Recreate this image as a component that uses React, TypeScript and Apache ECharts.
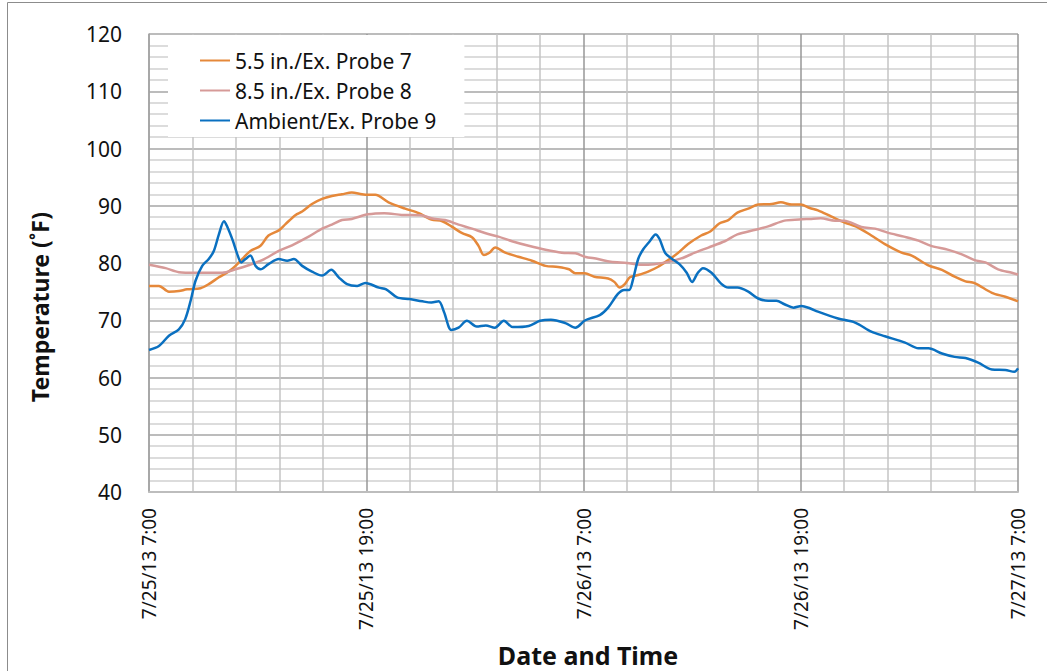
import React, { useEffect, useRef } from "react";
import * as echarts from "echarts";

// Hours elapsed since 7/25/13 7:00
const tickLabels: Record<number, string> = {
  0: "7/25/13 7:00",
  12: "7/25/13 19:00",
  24: "7/26/13 7:00",
  36: "7/26/13 19:00",
  48: "7/27/13 7:00",
};

const seriesNames = ["5.5 in./Ex. Probe 7", "8.5 in./Ex. Probe 8", "Ambient/Ex. Probe 9"];

const probe7Hours = [0, 0.55, 1.1, 1.65, 2.1, 2.85, 3.3, 3.86, 4.4, 4.78, 5.15, 5.6, 6.16, 6.6, 7.17, 7.54, 8.1, 8.46, 9.0, 9.56, 10.1, 10.66, 11.2, 11.76, 12.1, 12.5, 13.23, 14.15, 14.9, 15.6, 16.2, 16.7, 17.3, 17.84, 18.2, 18.5, 18.8, 19.13, 19.68, 20.4, 21.15, 21.9, 22.6, 23.2, 23.55, 24.07, 24.6, 25.36, 25.7, 26.0, 26.28, 26.56, 27.02, 27.57, 28.1, 28.68, 29.2, 29.78, 30.5, 31.0, 31.5, 32.0, 32.5, 33.1, 33.65, 34.4, 34.9, 35.5, 36.0, 36.5, 36.95, 37.7, 38.4, 39.17, 39.9, 40.65, 41.57, 42.13, 43.05, 43.8, 44.5, 45.1, 45.6, 46.56, 47.3, 48.0];
const probe7Temps = [76.0, 76.0, 75.0, 75.1, 75.4, 75.6, 76.3, 77.5, 78.5, 79.5, 80.7, 82.1, 83.0, 84.8, 85.7, 86.8, 88.4, 89.0, 90.3, 91.2, 91.7, 92.0, 92.3, 92.0, 91.9, 91.9, 90.6, 89.5, 88.7, 87.6, 87.3, 86.4, 85.2, 84.5, 83.0, 81.4, 81.8, 82.7, 81.8, 81.1, 80.4, 79.5, 79.3, 78.9, 78.2, 78.2, 77.6, 77.3, 76.7, 75.7, 76.3, 77.5, 77.9, 78.5, 79.3, 80.5, 81.7, 83.3, 84.8, 85.5, 86.9, 87.5, 88.8, 89.5, 90.2, 90.3, 90.6, 90.2, 90.2, 89.6, 89.2, 88.1, 87.1, 86.2, 84.8, 83.3, 81.8, 81.3, 79.6, 78.8, 77.6, 76.8, 76.5, 74.8, 74.1, 73.3];

const probe8Hours = [0, 0.92, 1.65, 2.57, 4.04, 4.78, 5.5, 6.25, 7.17, 7.9, 8.82, 9.56, 10.1, 10.66, 11.2, 12.1, 13.0, 13.97, 15.1, 15.6, 16.36, 17.1, 17.84, 18.6, 19.3, 20.05, 20.97, 21.9, 22.8, 23.55, 24.07, 24.8, 25.5, 26.4, 27.2, 27.9, 28.7, 29.4, 30.15, 30.9, 31.8, 32.5, 33.5, 34.2, 35.1, 35.9, 36.5, 37.1, 37.9, 38.4, 39.35, 40.1, 40.8, 41.7, 42.5, 43.2, 44.16, 44.9, 45.6, 46.2, 46.9, 47.66, 48.0];
const probe8Temps = [79.7, 79.1, 78.4, 78.3, 78.3, 78.9, 79.6, 80.5, 82.1, 83.1, 84.6, 86.0, 86.7, 87.5, 87.7, 88.5, 88.7, 88.4, 88.3, 87.8, 87.5, 86.7, 86.0, 85.2, 84.6, 83.8, 83.0, 82.3, 81.8, 81.7, 81.1, 80.7, 80.2, 80.0, 79.7, 79.8, 80.2, 80.8, 81.8, 82.7, 83.8, 85.0, 85.8, 86.4, 87.4, 87.6, 87.7, 87.8, 87.4, 87.4, 86.3, 86.0, 85.3, 84.6, 83.9, 83.0, 82.3, 81.5, 80.5, 80.1, 78.9, 78.3, 78.0];

const probe9Hours = [0, 0.55, 1.1, 1.65, 2.0, 2.3, 2.57, 2.94, 3.3, 3.58, 3.86, 4.14, 4.3, 4.63, 4.87, 5.1, 5.33, 5.6, 5.88, 6.16, 6.6, 7.17, 7.63, 8.0, 8.46, 9.0, 9.56, 10.07, 10.48, 10.94, 11.5, 11.95, 12.7, 13.1, 13.7, 14.4, 15.1, 15.6, 16.0, 16.3, 16.7, 17.1, 17.56, 18.1, 18.6, 19.1, 19.6, 20.1, 20.97, 21.6, 22.2, 23.0, 23.55, 24.1, 24.9, 25.36, 25.9, 26.25, 26.52, 26.74, 27.02, 27.3, 27.66, 27.98, 28.2, 28.5, 28.86, 29.3, 29.7, 30.0, 30.3, 30.6, 31.07, 31.6, 32.0, 32.5, 33.1, 33.65, 34.2, 34.66, 35.1, 35.6, 36.04, 36.5, 36.95, 38.06, 39.0, 39.9, 40.65, 41.76, 42.5, 43.05, 43.8, 44.5, 45.1, 45.8, 46.56, 47.3, 47.8, 48.0];
const probe9Temps = [64.8, 65.5, 67.3, 68.4, 70.2, 73.4, 76.9, 79.5, 80.7, 82.1, 85.0, 87.3, 86.5, 83.9, 81.6, 80.1, 80.7, 81.3, 79.5, 78.9, 79.8, 80.7, 80.4, 80.7, 79.5, 78.5, 77.8, 78.8, 77.5, 76.3, 76.0, 76.5, 75.7, 75.4, 74.0, 73.7, 73.3, 73.1, 73.3, 71.4, 68.3, 68.7, 69.9, 68.9, 69.1, 68.7, 69.9, 68.8, 69.0, 69.9, 70.1, 69.5, 68.7, 70.0, 70.9, 72.2, 74.6, 75.3, 75.3, 77.2, 80.7, 82.4, 83.8, 85.0, 84.2, 81.8, 80.8, 79.8, 78.3, 76.7, 78.2, 79.1, 78.3, 76.4, 75.7, 75.7, 75.0, 73.8, 73.4, 73.4, 72.8, 72.2, 72.5, 72.1, 71.5, 70.3, 69.6, 68.0, 67.2, 66.1, 65.1, 65.1, 64.2, 63.6, 63.4, 62.6, 61.4, 61.3, 61.0, 61.6];

const seriesColors = ["#E5883A", "#D69A98", "#0A70C0"];

const FONT = "'Noto Sans', 'Open Sans', sans-serif";

function pairs(hours: number[], temps: number[]) {
  return hours.map((h, i) => [h, temps[i]]);
}

export default function App() {
  const ref = useRef<HTMLDivElement>(null);
  useEffect(() => {
    if (!ref.current) return;
    const chart = echarts.init(ref.current, undefined, { renderer: "svg" });
    const datasets = [
      pairs(probe7Hours, probe7Temps),
      pairs(probe8Hours, probe8Temps),
      pairs(probe9Hours, probe9Temps),
    ];
    chart.setOption({
      animation: false,
      backgroundColor: "#ffffff",
      textStyle: { fontFamily: FONT },
      grid: { left: 149, top: 34, width: 869, height: 458, containLabel: false },
      legend: {
        data: seriesNames,
        orient: "vertical",
        left: 168,
        top: 35,
        padding: [15, 28, 6, 32],
        backgroundColor: "#ffffff",
        icon: "rect",
        itemWidth: 30,
        itemHeight: 2,
        itemGap: 9,
        textStyle: { fontFamily: FONT, fontSize: 21, color: "#111", lineHeight: 21 },
      },
      xAxis: {
        type: "value",
        min: 0,
        max: 48,
        interval: 12,
        axisLine: { show: true, lineStyle: { color: "#bdbdbd", width: 2 } },
        axisTick: { show: false },
        minorTick: { show: false, splitNumber: 5 },
        splitLine: { show: true, lineStyle: { color: "#979797", width: 1.5 } },
        minorSplitLine: { show: true, lineStyle: { color: "#c4c4c4", width: 1.5 } },
        axisLabel: {
          rotate: 90,
          margin: 16,
          fontSize: 19,
          color: "#111",
          fontFamily: FONT,
          showMinLabel: true,
          showMaxLabel: true,
          formatter: (v: number) => tickLabels[v] ?? "",
        },
      },
      yAxis: {
        type: "value",
        min: 40,
        max: 120,
        interval: 10,
        axisLine: { show: true, lineStyle: { color: "#a6a6a6", width: 1.5 } },
        axisTick: { show: false },
        minorTick: { show: false, splitNumber: 5 },
        splitLine: { show: true, lineStyle: { color: "#a6a6a6", width: 1.5 } },
        minorSplitLine: { show: true, lineStyle: { color: "#d0d0d0", width: 1.5 } },
        axisLabel: { margin: 27, fontSize: 21, color: "#111", fontFamily: FONT },
      },
      series: seriesNames.map((name, i) => ({
        name,
        type: "line",
        data: datasets[i],
        smooth: 0.3,
        symbol: "none",
        lineStyle: { color: seriesColors[i], width: 2.5 },
        itemStyle: { color: seriesColors[i] },
        z: 3 + (i === 2 ? 1 : 0),
      })),
      graphic: [
        {
          type: "rect",
          shape: { x: 7.5, y: 2.5, width: 1100, height: 700 },
          style: { fill: "none", stroke: "#8c8c8c", lineWidth: 1 },
          silent: true,
        },
        {
          type: "text",
          x: 588,
          y: 655,
          style: {
            text: "Date and Time",
            font: `bold 25px ${FONT}`,
            fill: "#111",
            textAlign: "center",
            textVerticalAlign: "middle",
          },
        },
        {
          type: "text",
          x: 40,
          y: 307,
          rotation: Math.PI / 2,
          style: {
            text: "Temperature (˚F)",
            font: `bold 23px ${FONT}`,
            fill: "#111",
            textAlign: "center",
            textVerticalAlign: "middle",
          },
        },
      ],
    });
    return () => chart.dispose();
  }, []);
  return (
    <div
      ref={ref}
      style={{ position: "fixed", left: 0, top: 0, width: 1047, height: 671, background: "#fff" }}
    />
  );
}
